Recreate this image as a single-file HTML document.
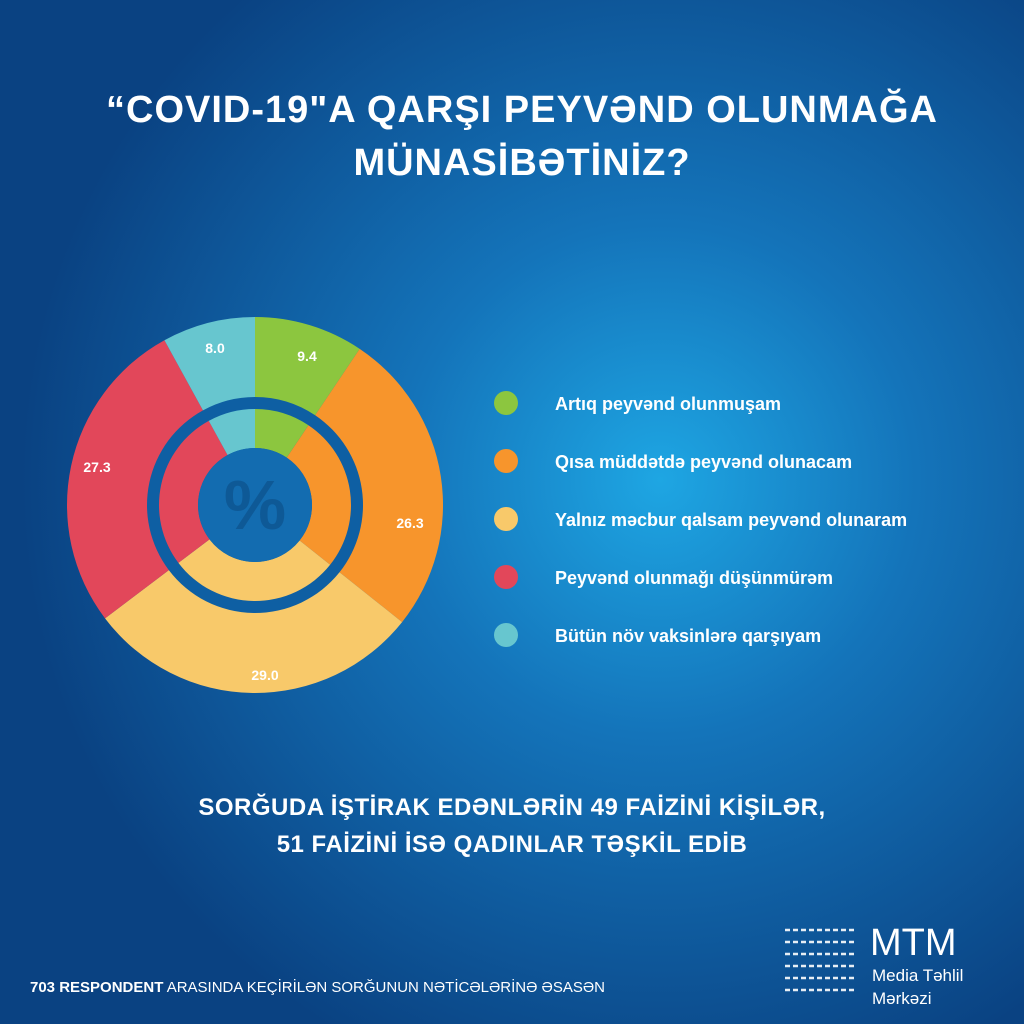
<!DOCTYPE html>
<html><head><meta charset="utf-8"><style>
html,body{margin:0;padding:0;}
body{width:1024px;height:1024px;overflow:hidden;font-family:"Liberation Sans",sans-serif;}
</style></head><body>
<svg width="1024" height="1024" viewBox="0 0 1024 1024" xmlns="http://www.w3.org/2000/svg">
<defs>
<radialGradient id="bg" cx="660" cy="480" r="640" gradientUnits="userSpaceOnUse">
<stop offset="0" stop-color="#1ea6e3"/>
<stop offset="0.4" stop-color="#1474ba"/>
<stop offset="1" stop-color="#0a4282"/>
</radialGradient>
</defs>
<rect width="1024" height="1024" fill="url(#bg)"/>
<g font-weight="bold" fill="#fff" text-anchor="middle" font-size="38" letter-spacing="1">
<text x="522" y="122">“COVID-19"A QARŞI PEYVƏND OLUNMAĞA</text>
<text x="522" y="175">MÜNASİBƏTİNİZ?</text>
</g>
<g id="donut" transform="translate(255,505)"></g>
<g font-size="18" fill="#fff" font-weight="bold">
<circle cx="506" cy="403" r="12" fill="#8cc63f"/><text x="555" y="410">Artıq peyvənd olunmuşam</text>
<circle cx="506" cy="461" r="12" fill="#f7952c"/><text x="555" y="468">Qısa müddətdə peyvənd olunacam</text>
<circle cx="506" cy="519" r="12" fill="#f8c96a"/><text x="555" y="526">Yalnız məcbur qalsam peyvənd olunaram</text>
<circle cx="506" cy="577" r="12" fill="#e2475a"/><text x="555" y="584">Peyvənd olunmağı düşünmürəm</text>
<circle cx="506" cy="635" r="12" fill="#67c6cf"/><text x="555" y="642">Bütün növ vaksinlərə qarşıyam</text>
</g>
<g font-weight="bold" fill="#fff" text-anchor="middle" font-size="24" letter-spacing="0.5">
<text x="512" y="815">SORĞUDA İŞTİRAK EDƏNLƏRİN 49 FAİZİNİ KİŞİLƏR,</text>
<text x="512" y="852">51 FAİZİNİ İSƏ QADINLAR TƏŞKİL EDİB</text>
</g>
<text x="30" y="992" fill="#fff" font-size="15"><tspan font-weight="bold">703 RESPONDENT</tspan> ARASINDA KEÇİRİLƏN SORĞUNUN NƏTİCƏLƏRİNƏ ƏSASƏN</text>
<g stroke="#fff" stroke-width="2.5" opacity="0.9">
<line x1="785" y1="930" x2="855" y2="930" stroke-dasharray="5 3"/>
<line x1="785" y1="942" x2="855" y2="942" stroke-dasharray="5 3"/>
<line x1="785" y1="954" x2="855" y2="954" stroke-dasharray="5 3"/>
<line x1="785" y1="966" x2="855" y2="966" stroke-dasharray="5 3"/>
<line x1="785" y1="978" x2="855" y2="978" stroke-dasharray="5 3"/>
<line x1="785" y1="990" x2="855" y2="990" stroke-dasharray="5 3"/>
</g>
<text x="870" y="955" fill="#fff" font-size="38">MTM</text>
<text x="872" y="981" fill="#fff" font-size="17">Media Təhlil</text>
<text x="872" y="1004" fill="#fff" font-size="17">Mərkəzi</text>
</svg>
<script>
(function(){
var g=document.getElementById('donut');var ns='http://www.w3.org/2000/svg';
var data=[[9.4,'#8cc63f'],[26.3,'#f7952c'],[29.0,'#f8c96a'],[27.3,'#e2475a'],[8.0,'#67c6cf']];
function pt(r,a){a=a*Math.PI*2/100;return [r*Math.sin(a),-r*Math.cos(a)];}
function arc(r1,r2,s,e,c){var p=document.createElementNS(ns,'path');var l=(e-s)>50?1:0;
var a=pt(r2,s),b=pt(r2,e),c1=pt(r1,e),d=pt(r1,s);
p.setAttribute('d','M'+a+'A'+r2+','+r2+' 0 '+l+' 1 '+b+'L'+c1+'A'+r1+','+r1+' 0 '+l+' 0 '+d+'Z');p.setAttribute('fill',c);g.appendChild(p);}
var c=document.createElementNS(ns,'circle');c.setAttribute('r',110);c.setAttribute('fill','#0e5fa3');g.appendChild(c);
var s=0;data.forEach(function(d){arc(108,188,s,s+d[0],d[1]);arc(57,96,s,s+d[0],d[1]);s+=d[0];});
var c2=document.createElementNS(ns,'circle');c2.setAttribute('r',57);c2.setAttribute('fill','#136cb0');g.appendChild(c2);
var t=document.createElementNS(ns,'text');t.setAttribute('y',24);t.setAttribute('text-anchor','middle');t.setAttribute('font-size','70');t.setAttribute('font-weight','bold');t.setAttribute('fill','#0e5996');t.textContent='%';g.appendChild(t);
var labels=[['9.4',52,-149],['26.3',155,18],['29.0',10,170],['27.3',-158,-38],['8.0',-40,-157]];
labels.forEach(function(l){var t=document.createElementNS(ns,'text');t.setAttribute('x',l[1]);t.setAttribute('y',l[2]+5);t.setAttribute('text-anchor','middle');t.setAttribute('font-size','14');t.setAttribute('font-weight','bold');t.setAttribute('fill','#fff');t.textContent=l[0];g.appendChild(t);});
})();
</script>
</body></html>
